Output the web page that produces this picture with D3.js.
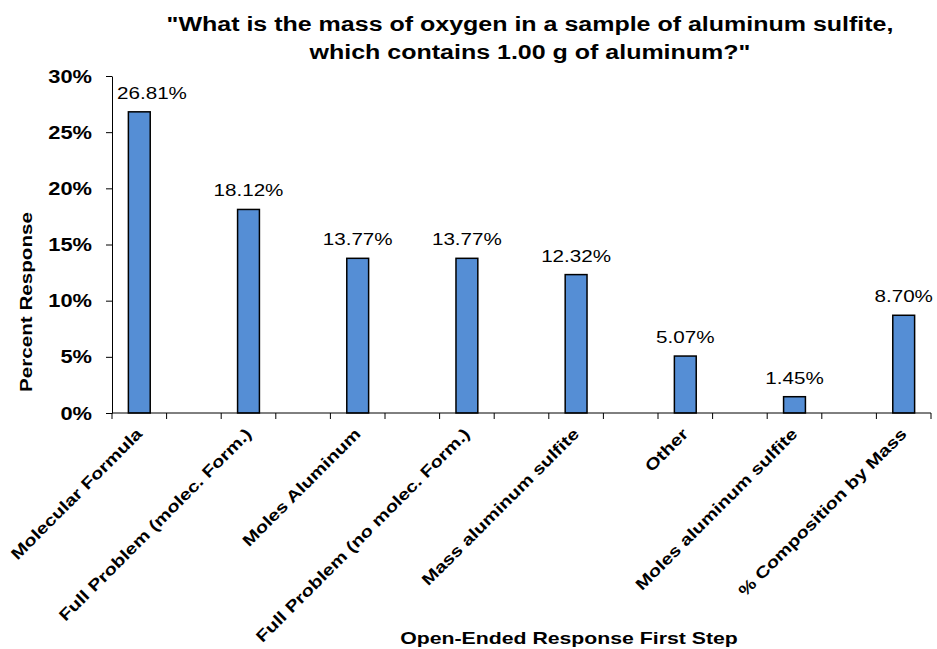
<!DOCTYPE html>
<html>
<head>
<meta charset="utf-8">
<script src="https://cdn.jsdelivr.net/npm/d3@7"></script>
<style>
 body{margin:0;background:#fff;}
 text{font-family:"Liberation Sans",Arial,sans-serif;fill:#000;}
</style>
</head>
<body>
<div id="chart"></div>
<script>
// categories with blank slots between them, like the excel original
const categories = ["Molecular Formula","Full Problem (molec. Form.)","Moles Aluminum","Full Problem (no molec. Form.)","Mass aluminum sulfite","Other","Moles aluminum sulfite","% Composition by Mass"]
const values = [26.81,18.12,13.77,13.77,12.32,5.07,1.45,8.70]
const yTicks = [0,5,10,15,20,25,30]

const W = 937, H = 649
const margin = {top:76,left:112,right:6,bottom:236}
const plotW = W - margin.left - margin.right
const plotH = H - margin.top - margin.bottom
const stretch = 1.25 // the original font renders wider than arial
const wide = `scale(${stretch},1)`

// 15 slots: category, blank, category, ...
let slots = []
categories.forEach((c,i)=>{ slots.push(c); if(i<categories.length-1) slots.push("blank"+i) })

const svg = d3.select("#chart").append("svg").attr("width",W).attr("height",H)
const g = svg.append("g").attr("transform",`translate(${margin.left},${margin.top})`)

const x = d3.scaleBand().domain(slots).range([0,plotW])
const y = d3.scaleLinear().domain([0,30]).range([plotH,0])

// y axis
const yAxis = d3.axisLeft(y).tickValues(yTicks).tickFormat(d=>d+"%").tickSize(6).tickSizeOuter(0)
let yg = g.append("g").call(yAxis)
yg.selectAll("line,path").attr("stroke","#000")
yg.selectAll("text").attr("x",null)
  .attr("font-size",17.5).attr("font-weight","bold").attr("dy","0.35em")
  .attr("transform",`translate(-20,0) ${wide}`)

// bars
const bw = x.bandwidth()*0.4
g.selectAll("rect.bar").data(values).enter().append("rect")
  .attr("class","bar")
  .attr("x",(d,i)=>x(categories[i]) + x.bandwidth()/2 - bw/2)
  .attr("y",d=>y(d))
  .attr("width",bw)
  .attr("height",d=>plotH - y(d))
  .attr("fill","#558ED5")
  .attr("stroke","#000")
  .attr("stroke-width",1.5)

// labels, pushed inside the plot area when they would hit the axis
g.selectAll("text.lbl").data(values).enter().append("text")
  .attr("class","lbl")
  .attr("text-anchor","middle")
  .attr("font-size",16.5)
  .text(d=>d.toFixed(2)+"%")
  .attr("transform",function(d,i){
    let half = this.getComputedTextLength()*stretch/2
    let cx = Math.max(x(categories[i]) + x.bandwidth()/2, half + 5)
    return `translate(${cx},${y(d)-13})${wide}`
  })

// x axis line + ticks at slot boundaries
let xg = g.append("g").attr("transform",`translate(0,${plotH})`)
xg.append("line").attr("x1",0).attr("x2",plotW).attr("stroke","#000")
const bounds = d3.range(slots.length+1).map(i=>i*x.step())
xg.selectAll("line.tk").data(bounds).enter().append("line")
  .attr("class","tk").attr("x1",d=>d).attr("x2",d=>d).attr("y1",0).attr("y2",6).attr("stroke","#000")

xg.selectAll("text.cat").data(categories).enter().append("text")
  .attr("class","cat")
  .attr("transform",d=>`translate(${x(d)+x.bandwidth()/2-4},${14}) rotate(-45) ${wide}`)
  .attr("text-anchor","end")
  .attr("dy","0.7em")
  .attr("font-size",16)
  .attr("font-weight","bold")
  .text(d=>d)

// titles
svg.append("text").attr("transform",`translate(530,31) ${wide}`).attr("text-anchor","middle")
  .attr("font-size",20).attr("font-weight","bold")
  .text("\"What is the mass of oxygen in a sample of aluminum sulfite,")
svg.append("text").attr("transform",`translate(530,59) ${wide}`).attr("text-anchor","middle")
  .attr("font-size",20).attr("font-weight","bold")
  .text("which contains 1.00 g of aluminum?\"")

svg.append("text").attr("transform",`translate(569,644) ${wide}`).attr("text-anchor","middle")
  .attr("font-size",17).attr("font-weight","bold")
  .text("Open-Ended Response First Step")

svg.append("text").attr("transform",`translate(32,302) rotate(-90) ${wide}`).attr("text-anchor","middle")
  .attr("font-size",16.5).attr("font-weight","bold")
  .text("Percent Response")
</script>
</body>
</html>
